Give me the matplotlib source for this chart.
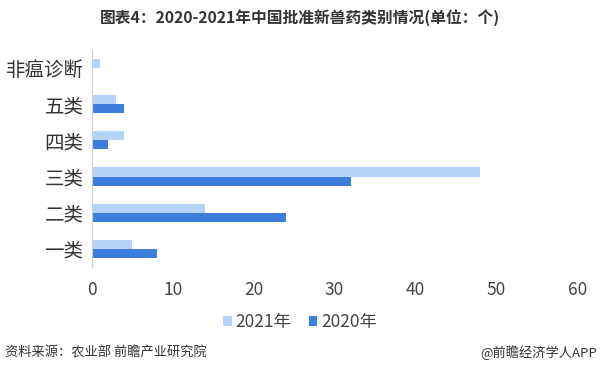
import matplotlib
matplotlib.use('Agg')
import matplotlib.pyplot as plt
import numpy as np

plt.rcParams['font.family'] = ['Noto Sans CJK SC', 'DejaVu Sans']

categories = ['一类', '二类', '三类', '四类', '五类', '非瘟诊断']
values_2021 = [5, 14, 48, 4, 3, 1]
values_2020 = [8, 24, 32, 2, 4, 0]
xticks = [0, 10, 20, 30, 40, 50, 60]

color_2021 = '#b5d3f8'
color_2020 = '#3b7edc'

fig = plt.figure(figsize=(6, 3.75), dpi=100)
ax = fig.add_axes([0.153, 0.288, 0.809, 0.579])

y = np.arange(len(categories))
h = 0.25
ax.barh(y + h / 2, values_2021, height=h, color=color_2021, label='2021年')
ax.barh(y - h / 2, values_2020, height=h, color=color_2020, label='2020年')

ax.set_xlim(0, 60)
ax.set_ylim(-0.5, len(categories) - 0.5)
ax.set_xticks(xticks)
ax.set_yticks(y)
ax.set_yticklabels(categories, fontsize=14, color='#333333')
ax.tick_params(axis='x', labelsize=12.5, colors='#444444', length=0, pad=10)
ax.tick_params(axis='y', length=0, pad=6)
for side in ['top', 'right', 'bottom']:
    ax.spines[side].set_visible(False)
ax.spines['left'].set_color('#d0d0d0')

fig.legend(loc='center', bbox_to_anchor=(0.5, 0.14), ncol=2, frameon=False,
           fontsize=12.5, handlelength=0.5, handleheight=0.5, handletextpad=0.2,
           columnspacing=1.0, labelcolor='#444444')

fig.text(0.5, 0.952, '图表4：2020-2021年中国批准新兽药类别情况(单位：个)',
         ha='center', va='center', fontsize=11.3, fontweight='bold', color='#333333')
fig.text(0.008, 0.06, '资料来源：农业部 前瞻产业研究院', ha='left', va='center',
         fontsize=9.5, color='#333333')
fig.text(0.995, 0.06, '@前瞻经济学人APP', ha='right', va='center',
         fontsize=9.5, color='#333333')

fig.savefig('out.png', dpi=100)
